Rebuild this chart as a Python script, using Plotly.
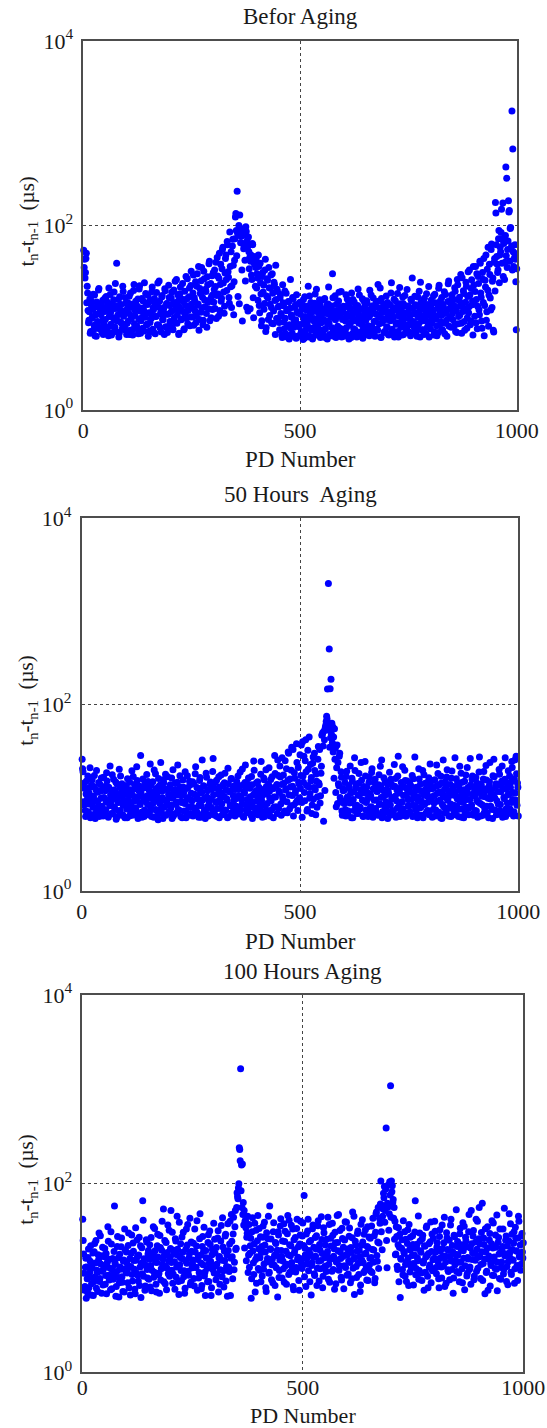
import plotly.graph_objects as go

# PD pulse numbers, split into odd and even pulses
PD_ODD = list(range(1, 1000, 2))
PD_EVEN = list(range(2, 1001, 2))

# Time between consecutive PD pulses, t_n - t_(n-1), in microseconds
BEFORE_AGING_ODD = [
    54, 43, 31, 50, 22, 12, 9.4, 16, 7.1, 13.5, 10.2, 18, 8.3, 6.4, 11, 14.8, 9.1, 20, 7.6, 12.3, 10.8, 6.9, 15.5, 8.8, 11.7,
    9.6, 17, 7.3, 13, 21, 8.1, 11.4, 6.5, 14.2, 10, 19, 7.9, 12.6, 39, 9.2, 15.8, 6.8, 11.1, 13.9, 8.6, 22, 10.4, 7.4, 16.5, 12,
    8.7, 14.5, 11.2, 6.6, 18.5, 9.8, 12.9, 7.5, 23, 10.6, 15.1, 8.2, 13.3, 6.7, 20.5, 11.8, 9.3, 16.2, 7.7, 12.2, 24, 10.1, 14, 8.5, 17.5,
    11.3, 7.2, 15.6, 9.9, 21.5, 12.8, 6.9, 14.6, 10.3, 18.8, 8.4, 13.1, 25, 7.8, 11.6, 16.8, 9.5, 12.4, 6.6, 19.6, 10.9, 14.3, 8, 22.5, 13.6,
    9, 16.4, 11.9, 7.4, 20, 13.8, 8.9, 26, 10.7, 15.2, 6.8, 18.2, 12.1, 9.7, 23.5, 14.9, 7.6, 11, 28, 16.1, 8.6, 13.4, 21, 10.2, 32,
    12.7, 18.6, 8.3, 15.4, 24.5, 10.5, 30, 14.1, 7.3, 20.8, 11.5, 35, 16.7, 9.4, 26.5, 13.2, 19.2, 7.9, 22.8, 12.5, 41, 15.9, 10, 28.5, 17.8,
    14.7, 33, 21.8, 9.8, 45, 18.1, 26.8, 12, 38, 16.3, 55, 23.8, 11.2, 30.5, 48, 19.8, 62, 27.5, 14.4, 36, 52, 22.2, 71, 10.8, 42,
    124, 88, 235, 17, 100, 130, 65, 92, 9.2, 78, 80, 42, 97, 13, 58, 75, 34, 12.5, 48, 26, 62, 10, 38, 22, 44,
    30, 15.5, 36, 11.3, 24, 8.2, 28, 19, 12.4, 33, 7.1, 17.2, 25.5, 9.6, 21.2, 14, 29, 8.7, 18.4, 11.8, 23, 6.6, 15.8, 20.4, 9.9,
    13.3, 7.4, 17.9, 10.5, 6.1, 14.5, 9, 19.5, 6.7, 11.9, 8.1, 15, 5.9, 12.7, 7.7, 10.1, 16.6, 6.3, 9.3, 13.7, 6, 11.4, 8.5, 14.2, 6.4,
    10.9, 7.1, 13.9, 5.8, 9.7, 16.9, 6.6, 12.1, 8.3, 22, 6.2, 10.4, 14.6, 7.3, 5.9, 11.7, 9.1, 18.1, 6.5, 13, 7.9, 10, 15.7, 6.1, 8.8,
    12.5, 6.8, 9.5, 16.2, 7.6, 11.1, 5.9, 14.1, 8.7, 10.8, 6.4, 13.4, 30, 7.2, 9.9, 17.3, 6.1, 12, 8.1, 15.2, 6.9, 10.6, 19.2, 7.5, 11.6,
    6.3, 13.1, 9.2, 7.8, 16, 10.3, 5.9, 12.9, 8.9, 18.6, 6.7, 11.3, 14.8, 7.4, 9.6, 6.2, 13.6, 10.7, 17.6, 7, 12.3, 8.4, 6, 15.3, 9.4,
    11.8, 6.6, 14.4, 8.2, 10.2, 19.9, 6.9, 12.6, 7.7, 16.4, 9.1, 6.3, 13.2, 10.9, 7.3, 15.1, 8.6, 21, 6.1, 11.5, 9.8, 14, 7.1, 12.7, 17.2,
    8, 10.6, 6.5, 13.8, 9.3, 24, 7.5, 11.9, 15.9, 6.8, 12.4, 8.8, 18.3, 6.2, 10.4, 14.2, 7.9, 9.1, 16.8, 6.6, 11.2, 13.5, 8.3, 20.2, 7.2,
    12.2, 9.7, 6.4, 15.4, 27, 8.5, 11, 17.1, 6.9, 13.3, 7.8, 10.1, 19.4, 6.2, 14.6, 9.2, 12.8, 7.4, 16.3, 10.8, 6.7, 13.9, 8.9, 21.8, 11.4,
    7.6, 15.6, 9.9, 12.1, 6.5, 18, 10.5, 8.2, 14.1, 6.9, 22.5, 11.7, 9, 16.6, 7.3, 13, 19.1, 8.7, 11.2, 6.3, 15, 25, 10, 12.9, 7.9,
    17.7, 9.5, 13.7, 21.2, 7.1, 11.9, 26, 8.6, 15.4, 10.7, 29.5, 6.8, 14.3, 19.6, 9.1, 12.5, 24.2, 7.7, 17, 11.3, 33, 8.4, 20.8, 13.8, 6.5,
    22.6, 10.4, 36, 15.8, 7.6, 28, 12.2, 41, 18.5, 9.2, 31, 14.6, 6.4, 25.5, 48, 11.6, 20, 8.1, 38, 16.4, 55, 12.9, 27, 7, 44,
    177, 62, 38, 33, 88, 48, 52, 150, 71, 28, 66, 40, 430, 325, 55, 185, 145, 93, 56, 1740, 675, 36, 50, 43, 7.4,
]
BEFORE_AGING_EVEN = [
    35, 27, 44, 14.5, 18.5, 8.8, 11.6, 6.8, 15.3, 9.9, 12.4, 7.4, 17.6, 10.7, 6.3, 13.2, 8.1, 20.8, 11.2, 7.7, 14.1, 9.3, 6.6, 12.8, 16.4,
    7.9, 11.8, 14.7, 6.4, 10.3, 17.9, 8.5, 12.3, 6.9, 15.7, 9.4, 23.5, 7.1, 13.4, 10.8, 6.2, 16.9, 9, 12, 7.6, 19.2, 11.4, 8.2, 14.4, 6.6,
    12.6, 9.2, 17.1, 7.3, 10.5, 14, 6.5, 19.8, 8.6, 11.9, 13.5, 7.8, 16, 9.7, 22.2, 6.8, 12.7, 10.1, 15.2, 7.2, 11.1, 18.3, 8.4, 13.9, 6.3,
    14.9, 8.9, 11.3, 19.1, 7.5, 12.2, 16.2, 6.7, 10.4, 13.8, 23.8, 8.3, 15.1, 11, 7, 17.4, 9.6, 12.9, 20.6, 8, 14.2, 6.9, 10.9, 16.6, 9.1,
    11.5, 18.9, 7.7, 14.6, 10, 24.8, 12.4, 8.7, 17.8, 6.6, 13, 21.6, 9.5, 15.9, 11.7, 7.4, 19.4, 13.6, 9.9, 26.5, 12, 16.9, 8.2, 22.4, 14.1,
    10.2, 29, 16.5, 11.8, 8.9, 21.9, 13.7, 36, 9.6, 18.3, 25.2, 12.8, 8.4, 32, 15.6, 20.4, 11.1, 27.8, 14.8, 38.5, 9.3, 23.5, 17.1, 12.3, 31,
    20.3, 12.6, 40, 17.4, 28.4, 10.4, 50, 23, 15.1, 34, 58, 19, 13.3, 44, 26, 67, 31.5, 16.6, 85, 21.7, 12.9, 60, 37, 24.5, 72,
    135, 47, 82, 88, 14.2, 88, 76, 33, 64, 56, 58, 25, 86, 68, 11.8, 52, 45, 41, 29, 64, 16.5, 46, 40, 35, 21,
    27, 48, 13.6, 39, 18.1, 9.3, 31, 22.6, 14.3, 43, 7.8, 26.4, 16.4, 35, 10.6, 20.9, 12.9, 30, 8.6, 24.3, 15.4, 37, 9.8, 19.3, 13.1,
    8.9, 16.5, 11.1, 6.5, 22.8, 13.5, 7.6, 9.9, 18.4, 6.2, 12.3, 14.9, 8.4, 26, 10.7, 6.8, 15.9, 7.9, 12.9, 9.5, 17.8, 6.3, 11.3, 8, 14.7,
    6.7, 12.4, 8.6, 15.8, 6, 10.3, 7.5, 13.3, 9.3, 6.4, 17.2, 11.2, 7.7, 12.7, 6.2, 9.8, 14.4, 8.1, 20.4, 6.9, 11.5, 8.9, 13.8, 6.5, 10.8,
    15.6, 7.4, 11.9, 6.1, 9.2, 13.6, 8.5, 21.5, 6.6, 12.2, 10.1, 7.8, 16.5, 6.3, 11.6, 9.5, 14, 6.9, 10.5, 18.9, 7.7, 12.9, 6.2, 9.6, 13.3,
    9.8, 7.1, 17.8, 11, 6.5, 14.2, 8.3, 12.4, 6.1, 10.2, 15.8, 7.6, 9.3, 13.2, 6.8, 11.4, 20.5, 8.7, 6.3, 12.5, 9.9, 16.1, 7.4, 10.7, 13.8,
    9.4, 15.3, 7.2, 12.1, 6.4, 10.8, 17.6, 8.1, 13.5, 6.7, 11.2, 9.2, 14.9, 7.5, 23, 10.1, 12.7, 6.2, 16.2, 8.8, 11.6, 6.9, 13.9, 9.6, 7.8,
    14.6, 6.6, 11.5, 9.4, 18.6, 7.3, 12.9, 10.2, 6.2, 15.3, 8.5, 13.1, 7.1, 10.9, 21.3, 8.9, 12.2, 6.5, 14.3, 9.7, 17.4, 7.6, 11.1, 6.9, 13.4,
    8.4, 10.7, 15.9, 6.8, 12.7, 9.1, 7.7, 13.8, 11.2, 6.3, 16.8, 8.6, 11.8, 24.3, 7.4, 10.3, 14.7, 6.6, 12.3, 9.3, 18.2, 7.9, 13.1, 6.2, 10.5,
    13.6, 8.8, 11.4, 17.3, 7, 14.5, 9.7, 6.4, 12.6, 20.9, 8.3, 15.3, 10.6, 7.4, 13.9, 11.1, 6.7, 17.9, 9.4, 12.2, 23.3, 8.1, 14.9, 10.2, 16.1,
    11.2, 15.9, 8.2, 19.4, 12.9, 6.9, 22.8, 10.3, 16.7, 13.5, 8.7, 27.2, 11.7, 18.3, 7.3, 14.7, 21.9, 10, 31.5, 13.2, 17.6, 9.2, 25.8, 15.2, 36,
    14.1, 19.2, 8.8, 30, 13.3, 23.5, 10.8, 39, 16.7, 7.7, 26.2, 44, 13.6, 21.5, 9.4, 33.5, 58, 17.6, 29.5, 12.1, 63, 24.8, 7.3, 40, 19.5,
    137, 46, 31, 72, 24, 58, 84, 39, 175, 64, 26, 78, 47, 35, 68, 140, 41, 95, 60, 33, 52, 44, 62, 24.5, 34,
]

AGING_50H_ODD = [
    26, 19, 8.4, 12.6, 6.3, 15.2, 9.7, 7.1, 11.3, 21, 6.6, 13.7, 8.9, 10.4, 17.4, 6, 12.1, 7.8, 9.2, 14.6, 6.9, 11.8, 16.3, 8.1, 6.4,
    10.1, 13.2, 7.4, 18.6, 9.5, 6.2, 12.4, 22, 8.6, 10.9, 6.7, 15.8, 7.9, 11.6, 5.9, 14.1, 9, 7.2, 12.9, 17.1, 6.5, 10.3, 8.3, 13.6, 6.1,
    11.1, 7.6, 16, 9.4, 6.4, 12.2, 8.2, 19.5, 10.6, 6.8, 13.9, 7.3, 9.9, 15.3, 6, 11.9, 8.8, 28.5, 7, 12.7, 10.2, 6.3, 14.4, 9.1, 17.8,
    8.5, 6.6, 12, 23, 7.7, 10.7, 14.9, 6.2, 9.6, 18.1, 7.4, 11.4, 5.8, 13.3, 8.7, 24, 6.9, 10, 15.6, 7.9, 12.5, 6.5, 9.3, 16.8, 11,
    7.1, 13.8, 8.3, 6, 20, 10.5, 6.7, 12.3, 9, 14.7, 7.5, 11.7, 17.3, 6.3, 8.9, 10.8, 13, 7.2, 19, 6.1, 9.8, 12.8, 8, 15.1, 6.8,
    11.2, 9.3, 6.4, 14.2, 7.8, 21.5, 10.4, 6.9, 12.6, 8.4, 16.5, 6.2, 11.5, 9.5, 13.5, 7.3, 6, 18.4, 10.2, 8.1, 12.3, 6.6, 14.8, 9.7, 7.6,
    26.5, 12.9, 6.5, 9.1, 15.4, 7.7, 11, 6.1, 13.1, 17.6, 8.6, 10.3, 6.8, 14.5, 7.4, 12.2, 9.4, 20.8, 6.3, 11.8, 8.2, 16.1, 7, 10.6, 13.4,
    6.4, 9.8, 15, 7.9, 12.4, 6.7, 18.9, 10.1, 8.5, 13.7, 6.2, 11.3, 22.5, 7.5, 9.6, 14, 6.9, 12.7, 8.8, 16.9, 6, 10.7, 19.8, 7.8, 11.9,
    9.2, 14.9, 6.6, 12, 8.3, 24.5, 10.5, 7.1, 16.3, 6.3, 11.5, 13.2, 8.7, 6.8, 21, 9.9, 15.7, 7.4, 12.8, 6.1, 10.2, 18.2, 8, 13.9, 25.5,
    7.7, 11.4, 16.7, 6.5, 27, 9.6, 14.3, 7.2, 12.1, 20.5, 6.9, 31, 10.8, 15.9, 8.2, 35, 13.3, 6.4, 18.6, 11.2, 8.9, 24, 7.3, 14.7, 10,
    12.6, 37, 6.2, 17.2, 28, 9.3, 42, 13.6, 7.5, 20.2, 45, 11.1, 15.2, 6.8, 23.5, 9.7, 30, 12.2, 18, 7.9, 26, 14.4, 33, 10.5, 21.8,
    48, 36, 52, 12, 60, 75, 147, 2000, 395, 148, 187, 63, 58, 45, 55, 34, 8, 37, 24, 13.5, 30, 9.2, 16.6, 6.5, 11.9,
    8.7, 14.6, 6.4, 19.3, 10.3, 7.2, 12.8, 22, 9, 16.2, 6.1, 11.6, 27, 8.2, 13.9, 6.8, 10.7, 18.2, 7.6, 12.1, 15.4, 9.4, 6.3, 11.3, 24.5,
    7.4, 13.1, 9.8, 6.7, 16.6, 10.9, 8, 20.5, 6.2, 12.4, 14.5, 7.7, 9.5, 11.7, 6.5, 17.7, 8.6, 13.5, 25.5, 7.1, 10.4, 6.9, 15.2, 9.1, 12.2,
    6, 11, 18.8, 8.4, 14.1, 7.3, 10, 6.6, 13.3, 16.1, 9.3, 7.8, 28, 11.9, 6.3, 12.9, 8.9, 21.5, 10.6, 7, 15.3, 6.4, 12.6, 9.7, 8.1,
    14.4, 6.8, 11.4, 17.4, 8.3, 10.2, 27.5, 7.5, 13, 6.1, 9.2, 15.9, 12, 7.9, 6.5, 19.6, 10.8, 8.5, 14.3, 6.9, 11.6, 9, 16.4, 7.2, 13.6,
    10.3, 6.2, 12.7, 8.8, 15.6, 7.4, 22.5, 11.2, 6.7, 13.8, 9.5, 17, 6, 10.9, 8, 12.3, 14.9, 7.1, 20, 9.9, 6.4, 11.8, 8.6, 16.2, 7.7,
    13.2, 6.9, 27, 10.5, 8.2, 14.6, 6.3, 12, 9.1, 18.4, 7.6, 11.1, 6.1, 15.1, 10, 7.9, 21.2, 12.9, 6.6, 9.6, 13.7, 8.4, 17.1, 6.8, 11.5,
    7.3, 16.5, 9.4, 6.2, 12.5, 27.5, 8.7, 14, 10.4, 6.5, 19.2, 7.8, 11.9, 15.5, 6.9, 9.9, 13.3, 24, 8.1, 12.2, 6, 10.7, 16.8, 7.4, 14.2,
    9.3, 11.7, 6.7, 17.9, 8.5, 13.6, 22, 7, 10.1, 15.8, 6.3, 12.4, 8.8, 19.5, 11, 7.6, 14.7, 24.5, 9.6, 6.4, 16, 11.3, 28, 8.3, 13,
]
AGING_50H_EVEN = [
    20.5, 9.1, 14.4, 7.3, 11, 6.5, 17.2, 8.6, 12.9, 6.1, 10.1, 15.6, 7.9, 13.1, 9.4, 6.9, 19.6, 11.5, 8.1, 6.3, 13.9, 9.9, 7.5, 12.3, 16.6,
    7, 11.9, 9.1, 15.2, 6.4, 13, 8.2, 10.7, 6.8, 17.7, 9.7, 12.1, 7.6, 14.8, 6.2, 10.4, 8.9, 20.3, 7.3, 11.2, 14.2, 6.6, 9.5, 12.7, 8.4,
    13.5, 6.1, 10.8, 8.1, 14.7, 7.1, 11.7, 6.5, 16.9, 9.2, 12.5, 7.8, 21.5, 10.2, 6.7, 13.4, 8.5, 11.3, 6.2, 15.9, 9.6, 7.4, 12.8, 6.9, 10.5,
    15, 9.9, 7.2, 13.6, 6.3, 11.4, 8.8, 19.9, 7.5, 12.6, 10.3, 6.6, 16.1, 9, 13.8, 7.7, 11.8, 6, 14.5, 9.4, 17.9, 8.3, 12.2, 6.8, 10.6,
    12.7, 7.8, 16.3, 9.9, 6.4, 11.6, 14.3, 8.5, 6.9, 22.5, 10.7, 7.3, 13.1, 9.2, 6.1, 15.5, 11.4, 8.7, 12.5, 7, 17.3, 10.1, 6.5, 13.7, 9.5,
    8, 14.9, 6.8, 10.9, 18.1, 7.6, 12.9, 9.7, 6.2, 15.3, 11.3, 8.2, 25.5, 6.7, 13.3, 10, 7.4, 16.6, 11.9, 6.4, 9.1, 14.1, 7.9, 12.4, 19.2,
    10.8, 7.2, 14.7, 8.9, 6.3, 12.4, 16.8, 9.5, 7.7, 11.2, 6.6, 13.9, 10.4, 18.3, 7.3, 9.8, 6.1, 14.2, 11.6, 8.4, 15.9, 6.9, 12.6, 9.3, 7.6,
    12.3, 8.1, 6.8, 17.2, 10.6, 13.4, 7.4, 9.6, 20.4, 6.3, 11.8, 14.6, 8.5, 6.9, 12.9, 16.3, 7.9, 10.3, 6.5, 13.8, 9, 24.8, 11.1, 7.1, 14.4,
    6.6, 10.5, 13, 7.6, 17.9, 9.4, 6.2, 12.3, 15.6, 8.2, 20, 10.9, 7.3, 14, 11.7, 6.4, 9.3, 16.8, 12.5, 7.9, 28.5, 10.2, 13.4, 6.8, 17.4,
    11.8, 22, 8.6, 13.9, 10.3, 17.6, 6.9, 25, 12.4, 9.1, 15.3, 30, 7.6, 13.1, 19.8, 10.6, 33, 8.4, 16.2, 12, 38, 9.4, 21.2, 14.1, 29,
    17.4, 8.9, 40, 14.7, 11.4, 25, 19.1, 7.2, 32.5, 13.1, 9.9, 22.8, 16.5, 8.4, 27.5, 12.9, 19.7, 6.6, 15.1, 10.3, 35.5, 13.8, 8.8, 18.3, 47,
    50, 5.6, 42, 57, 66, 70, 62, 53, 35, 44, 48, 39, 31, 16.2, 26, 11.4, 21, 8.7, 14.2, 28, 10.1, 19, 7.2, 12.6, 9.2,
    12.2, 7.5, 16.9, 10, 6.5, 13.6, 8.8, 11.1, 6.1, 15.1, 9.6, 7.3, 19.7, 12.8, 8.3, 6.8, 14.3, 10.6, 7.9, 24, 11.9, 6.4, 13.2, 9.2, 17.1,
    8.9, 11.4, 6.3, 14.7, 7.7, 10.4, 18.7, 6.9, 12.5, 9.4, 15.8, 7.1, 11.8, 6.6, 13.8, 8.5, 21.8, 10.1, 6.1, 12.1, 16.4, 8.1, 10.8, 7.4, 14.1,
    11.7, 8.7, 6.5, 15.8, 9.8, 13.2, 7.2, 22.8, 10.4, 6.2, 12.1, 17.2, 8, 11.3, 6.8, 14.6, 9.1, 7.6, 13.1, 19.8, 6.4, 10.9, 15.2, 8.3, 12.4,
    7.1, 13.5, 9.6, 6.3, 16, 11.5, 8.1, 12.8, 6.7, 10.2, 20.5, 7.8, 14.1, 9.3, 11.7, 6.1, 17.7, 8.7, 12.4, 10.5, 7.3, 15, 6.6, 23, 9.9,
    12.5, 15.3, 7.6, 10.6, 6.4, 13.3, 9.2, 18.2, 7, 11.6, 6.1, 14.4, 8.5, 25.5, 10.3, 6.9, 12.8, 16.7, 9.4, 7.8, 11.2, 13.9, 6.3, 19.4, 10.7,
    8.3, 11.8, 6.6, 16, 9.8, 7.5, 13.4, 21.8, 10.2, 6.2, 14.7, 8.9, 12.2, 6.8, 17.6, 9.6, 11.3, 7.7, 13.1, 26.5, 8.1, 15.7, 10.5, 6.5, 12.9,
    10.8, 7.2, 14.3, 9, 18.9, 11.5, 6.4, 13, 8.4, 15.9, 6.9, 10.3, 22.2, 8.1, 12.7, 6.1, 14.9, 9.7, 11.2, 7.5, 17.3, 26, 10, 13.5, 6.6,
    13.8, 8.6, 20.1, 7.3, 11.6, 15.1, 6.2, 12.5, 9.8, 27, 7.6, 14.3, 10.8, 6.8, 17.2, 12.9, 8.9, 21.1, 11.4, 7.1, 25.5, 9.5, 18.1, 14.4, 6.4,
]

AGING_100H_ODD = [
    42, 18, 7.4, 13, 6.1, 9.8, 16.5, 7.9, 11.4, 22, 8.7, 14.2, 6.5, 19, 10.3, 25, 12.1, 7.2, 15.6, 9.2, 28, 11.8, 17.2, 8.4, 13.5,
    20.5, 10.6, 6.8, 14.8, 24.5, 9.5, 12.7, 31, 7.7, 16.1, 11, 58, 13.9, 8.1, 21.5, 10.1, 6.3, 17.8, 12.4, 26.5, 9, 15.1, 7.1, 19.9, 11.6,
    14.5, 8.9, 30, 12.9, 6.6, 18.3, 10.9, 23.5, 15.3, 7.6, 34, 11.3, 16.8, 9.3, 27, 13.1, 6.2, 20.9, 66, 10.4, 14.1, 8.2, 25.5, 12.3, 17.9,
    9.7, 22.5, 13.6, 7.3, 16.3, 35, 11.5, 19.4, 8.6, 14.6, 29, 10.8, 6.9, 21, 12.5, 40, 15.8, 9.1, 25, 13.3, 7.5, 18.6, 11.1, 32, 16.7,
    52, 12.1, 8.8, 19.7, 14.9, 26, 10.2, 45, 17.4, 6.7, 13.8, 23, 9.4, 16, 30.5, 11.9, 7.8, 20.3, 14.3, 37, 10.7, 18.1, 8.5, 24, 12.8,
    15.5, 9.9, 33, 13, 21.8, 7.4, 17.1, 11.4, 48, 14.4, 8.3, 27.5, 19.1, 10.5, 6.5, 16.4, 12.6, 23.8, 9.2, 31.5, 15, 7.9, 20, 13.4, 11.3,
    18.4, 9.6, 14, 26.5, 7.1, 16.9, 12.2, 36, 10.3, 21.3, 8, 15.2, 29, 13.2, 6.4, 19.6, 11.7, 40, 16.2, 24.5, 9.8, 44, 14.7, 52, 20.6,
    80, 69, 100, 230, 1650, 158, 162, 63, 52, 40, 34, 27, 45, 17.5, 13, 22, 6.1, 31, 19.3, 10.9, 38, 15.7, 8.8, 24.8, 12.6,
    33.5, 16.4, 9.1, 21.6, 27, 12.4, 39, 18.8, 7.2, 14.9, 26, 11.2, 58, 20.1, 9.6, 15.9, 31, 13.7, 8.3, 23.2, 17.3, 6.3, 28.5, 12, 35.5,
    19.5, 10, 15.1, 37.5, 24.3, 13.5, 8.6, 29.5, 17.6, 41, 11.5, 21.9, 14.6, 33, 7.5, 18.5, 26.8, 12.9, 42, 16.6, 9.4, 22.9, 40, 14.2, 27.8,
    13.8, 75, 20.7, 8.1, 16, 31.5, 11.9, 24.2, 18, 6.6, 14.4, 36.5, 21.2, 10.6, 17, 28, 12.7, 40.5, 9.3, 19.8, 15.3, 25.6, 7.9, 34, 13.1,
    22.4, 11.7, 17.7, 44, 14, 9, 26.3, 16.2, 38, 12.3, 20.4, 30.6, 8.7, 15.5, 23.8, 47, 13.6, 18.9, 10.2, 33.6, 16.9, 7.7, 25.2, 12.9, 39,
    17.5, 11, 27.7, 14.6, 21, 9.8, 50, 15.9, 6.7, 24.5, 13.2, 19.2, 31.4, 10.9, 16.8, 8.4, 22.2, 41.5, 14.5, 29, 12, 18.3, 9.5, 35, 20.8,
    13.7, 26.4, 16.5, 11.4, 43, 19.8, 8.9, 30.5, 50, 15, 56, 23.5, 38, 107, 59, 45, 79, 93, 52, 390, 12.8, 96, 32, 105, 1090,
    107, 95, 68, 56, 40, 18, 27.5, 12.3, 34, 21.2, 6.2, 15.8, 25.5, 10.8, 19.1, 31, 13.9, 9.2, 23.2, 16.3, 37, 11.6, 20.3, 14.1, 28,
    8.4, 17.5, 66, 12.6, 22.8, 15.2, 9.7, 30, 19.4, 11.3, 26, 14.4, 7.4, 21.7, 16.7, 35.5, 10.4, 18.2, 13, 24.2, 8.9, 29.3, 15.6, 12, 40,
    18.7, 11.1, 23.7, 14.8, 7.9, 32.5, 16.4, 10, 20.5, 13.4, 44, 17.1, 8.8, 26.7, 12.2, 19.6, 9.6, 36.5, 15.1, 22.1, 6.9, 28.3, 13.8, 17.8, 11.7,
    24.4, 14.7, 9.1, 33.7, 19.9, 12.5, 38.5, 16.2, 7.5, 27, 21.4, 11.2, 15.9, 47, 13.1, 8.6, 23, 18.5, 31.8, 10.5, 15.4, 42, 20.2, 12.7, 26.1,
    17.2, 9.9, 30.4, 62, 14.2, 22.6, 6.8, 19, 11.8, 35, 16, 25.3, 8.2, 13.6, 40.5, 20.8, 10.6, 15, 28.6, 12.4, 7.3, 23.9, 17.9, 33, 9.7,
    14.8, 21.5, 11, 55, 18.1, 27.8, 13.2, 8.5, 24.8, 16.6, 37.5, 10.9, 20, 15.4, 31, 12.5, 26.3, 19.2, 9.4, 45, 17, 22.3, 14, 29.7, 16.3,
]
AGING_100H_EVEN = [
    25, 11.2, 8.1, 16.2, 13.1, 7, 20.3, 10.1, 15, 6.6, 12.8, 18.4, 9.1, 23.2, 14.4, 7.8, 11.5, 17.6, 30, 9.9, 14.1, 6.9, 21.2, 12.4, 16.8,
    8.6, 18.2, 13.3, 35, 10.7, 15.8, 7.5, 22.9, 12.2, 9.7, 19.1, 14.5, 6.4, 11.7, 27.5, 16.4, 8.9, 13.1, 21.4, 10.3, 7.2, 15.5, 33, 12.5, 18.8,
    11.3, 22.1, 7.9, 16.1, 13.2, 28.5, 9.3, 19.2, 12.4, 6.8, 15.4, 25.2, 10.7, 17.5, 8.3, 21.9, 14.3, 11.1, 41, 16, 7.4, 13.6, 24.1, 10, 19.6,
    15.8, 8, 26.8, 12.1, 18.2, 10.2, 33.5, 14.8, 7.1, 22, 16.7, 11.3, 28.2, 9.5, 19.7, 13.9, 54, 17.3, 8.7, 23.8, 12.7, 36.5, 15.1, 10.4, 20.5,
    14.6, 30.5, 11, 17.8, 7.6, 24.7, 13.1, 20.2, 9.2, 39, 16.5, 12, 27.2, 18.7, 10.3, 6.9, 15.2, 33, 22.3, 11.8, 16.3, 43, 9, 19.2, 14,
    23.4, 8.2, 18.9, 12.9, 40.5, 15.7, 10, 26.1, 17.4, 7.7, 21.6, 13.8, 34.5, 11.5, 19.5, 16.2, 9.1, 28.8, 14.3, 22.6, 6.5, 17.6, 12.3, 38, 25.7,
    13.4, 21, 10.9, 31.7, 16.3, 8.6, 24.7, 15.4, 43.5, 11.9, 19.3, 27.9, 9.3, 17.5, 37.5, 13, 22.9, 6.5, 47, 16.8, 29.2, 12.2, 35, 20, 56,
    73, 90, 240, 175, 84, 56, 47, 36.5, 20.8, 41, 15.2, 29.8, 11.4, 37, 18.3, 26.4, 9.8, 43.5, 14.5, 23.1, 7.1, 32, 16.8, 46, 20.4,
    12.1, 27.4, 18.6, 10.5, 35.5, 14.1, 22.4, 7.9, 30.2, 16.1, 45, 11.5, 20.4, 25.9, 13.8, 8.9, 38.5, 17.4, 23.8, 12.8, 19.7, 31, 10.1, 15.5, 42.5,
    16.9, 24.6, 12.5, 9, 31.3, 19.2, 14, 46, 10.9, 22.5, 17.2, 36.2, 13, 8.1, 25.4, 19.9, 11.6, 33.4, 15.6, 21.4, 7.4, 28.6, 16, 12.6, 38.3,
    22.1, 10.3, 17.6, 29.2, 14.1, 42, 19.6, 9.1, 24.9, 13.6, 33.2, 16.5, 11.1, 26.9, 20.3, 8.3, 35.8, 15, 22.7, 12.5, 44.5, 18.2, 10.4, 30.1, 16.4,
    13.4, 25.7, 19.1, 9.7, 36.9, 15.8, 21.8, 11.8, 28.4, 17, 7.6, 23.6, 14.8, 46, 19.4, 12.1, 31.9, 16.1, 9.5, 26.2, 21.2, 13.5, 39.5, 17.6, 10.7,
    20.3, 15.1, 33.9, 8.9, 18.6, 26.7, 12.7, 45, 16.5, 22.3, 10.1, 29.6, 14.3, 19.6, 7.2, 37.2, 15.4, 24.1, 11.4, 17.9, 32.4, 13.1, 21.6, 9.4, 27.2,
    16.2, 11.8, 35.6, 20.1, 14.7, 28, 9.9, 48, 17.3, 24.1, 12.6, 43, 61, 31, 19.9, 54, 71, 39, 88, 25, 62, 57, 48, 76, 44,
    82, 63, 43, 25.7, 17.6, 35, 13.3, 22.5, 9.1, 29.1, 16.1, 20.7, 12.3, 40.5, 18.2, 10.4, 25.7, 14.9, 32.4, 8.3, 19.9, 27.1, 13, 17.3, 22.6,
    14.2, 30.8, 10.8, 20.6, 16.3, 45.5, 12, 24.6, 18.7, 9.4, 28.3, 15.1, 21.9, 11.5, 34.2, 17.4, 7.9, 23, 13.7, 39.3, 19.1, 11.9, 26.4, 16.2, 31.2,
    12.9, 21.2, 15.8, 9.8, 27.6, 19.3, 13.1, 36.4, 17, 23.7, 8.1, 14.8, 30.2, 20.1, 11.7, 25.1, 16.8, 42, 12.3, 18.8, 10, 27.3, 15.4, 53, 21.6,
    17.5, 11.3, 29.4, 14.8, 22.5, 8.9, 19.4, 35.4, 13.5, 24.7, 10.5, 16.5, 31, 12.3, 20.8, 52, 15.7, 27.8, 9.6, 18.2, 24, 11.8, 40, 16.6, 56,
    22.9, 13.9, 19, 9.4, 26.5, 15.9, 33.3, 11.4, 20.7, 7.4, 17.1, 29.6, 14.4, 23.1, 10.7, 38.3, 16.7, 12.6, 21.2, 46.5, 14.7, 26.9, 9.9, 18.6, 12.9,
    20.5, 33.1, 12.3, 17.2, 25.1, 9.2, 21.8, 14.9, 48, 18.7, 11.5, 29.1, 15.6, 23.4, 8.8, 34.4, 19.4, 13.6, 26.6, 40, 16.7, 12.1, 28, 18.9, 23.6,
]

PANEL_TITLES = ["Befor Aging", "50 Hours\u00a0 Aging", "100 Hours Aging"]
X_LABEL = "PD Number"
Y_LABEL = "t<sub>n</sub>-t<sub>n-1</sub>\u00a0 (\u00b5s)"
X_TICKS = [0, 500, 1000]
Y_TICKS = [1, 100, 10000]
Y_TICK_TEXT = ["10<sup>0</sup>", "10<sup>2</sup>", "10<sup>4</sup>"]

W, H = 547, 1428
FONT = "Liberation Serif"
INK = "#1a1a1a"

# plot-area boxes in pixels: (left, right, top, bottom)
BOXES = [
    (83.3, 516.7, 41.0, 410.0),
    (81.7, 518.3, 518.3, 891.0),
    (82.3, 523.3, 995.0, 1372.3),
]
# per panel: centre of the x-axis label below the plot, x tick-label standoff,
# x-axis label font size (the last panel sits against the bottom edge)
XLABEL_GAP = [50, 50, 43.5]
XTICK_STANDOFF = [0, 0, -5]
XLABEL_SIZE = [23, 23, 22]

panels = [
    (BEFORE_AGING_ODD, BEFORE_AGING_EVEN),
    (AGING_50H_ODD, AGING_50H_EVEN),
    (AGING_100H_ODD, AGING_100H_EVEN),
]

fig = go.Figure()
layout = dict(
    width=W, height=H,
    margin=dict(l=0, r=0, t=0, b=0, pad=0, autoexpand=False),
    paper_bgcolor="white", plot_bgcolor="white",
    showlegend=False,
    font=dict(family=FONT, color=INK, size=22),
    annotations=[],
)

for i, ((odd, even), (l, r, t, b)) in enumerate(zip(panels, BOXES)):
    k = "" if i == 0 else str(i + 1)
    xa, ya = "x" + k, "y" + k
    fig.add_trace(go.Scatter(
        x=PD_ODD + PD_EVEN, y=odd + even, mode="markers", xaxis=xa, yaxis=ya,
        marker=dict(color="#0000ff", size=7, line=dict(width=0)),
        cliponaxis=False,
    ))
    common = dict(
        showline=True, linecolor="#4d4d4d", linewidth=1.5, mirror=True,
        showgrid=True, gridcolor="#444444", griddash="dot", gridwidth=1,
        zeroline=False, ticks="", automargin=False,
        tickfont=dict(family=FONT, size=22, color=INK),
    )
    layout["xaxis" + k] = dict(
        common, domain=[l / W, r / W], range=[0, 1000], anchor=ya,
        tickmode="array", tickvals=X_TICKS, ticktext=[str(v) for v in X_TICKS],
        ticklabelstandoff=XTICK_STANDOFF[i],
    )
    layout["yaxis" + k] = dict(
        common, domain=[1 - b / H, 1 - t / H], type="log", range=[0, 4], anchor=xa,
        tickmode="array", tickvals=Y_TICKS, ticktext=Y_TICK_TEXT,
        ticklabelstandoff=4,
    )
    cx = (l + r) / 2
    cy = (t + b) / 2
    layout["annotations"] += [
        dict(text=PANEL_TITLES[i], x=cx / W, y=1 - (t - 24) / H, xref="paper", yref="paper",
             xanchor="center", yanchor="middle", showarrow=False,
             font=dict(family=FONT, size=23, color=INK)),
        dict(text=X_LABEL, x=cx / W, y=1 - (b + XLABEL_GAP[i]) / H, xref="paper", yref="paper",
             xanchor="center", yanchor="middle", showarrow=False,
             font=dict(family=FONT, size=XLABEL_SIZE[i], color=INK)),
        dict(text=Y_LABEL, x=27 / W, y=1 - (cy - 4) / H, xref="paper", yref="paper",
             xanchor="center", yanchor="middle", showarrow=False, textangle=-90,
             font=dict(family=FONT, size=21, color=INK)),
    ]

fig.update_layout(**layout)
fig.write_html("out.html")
